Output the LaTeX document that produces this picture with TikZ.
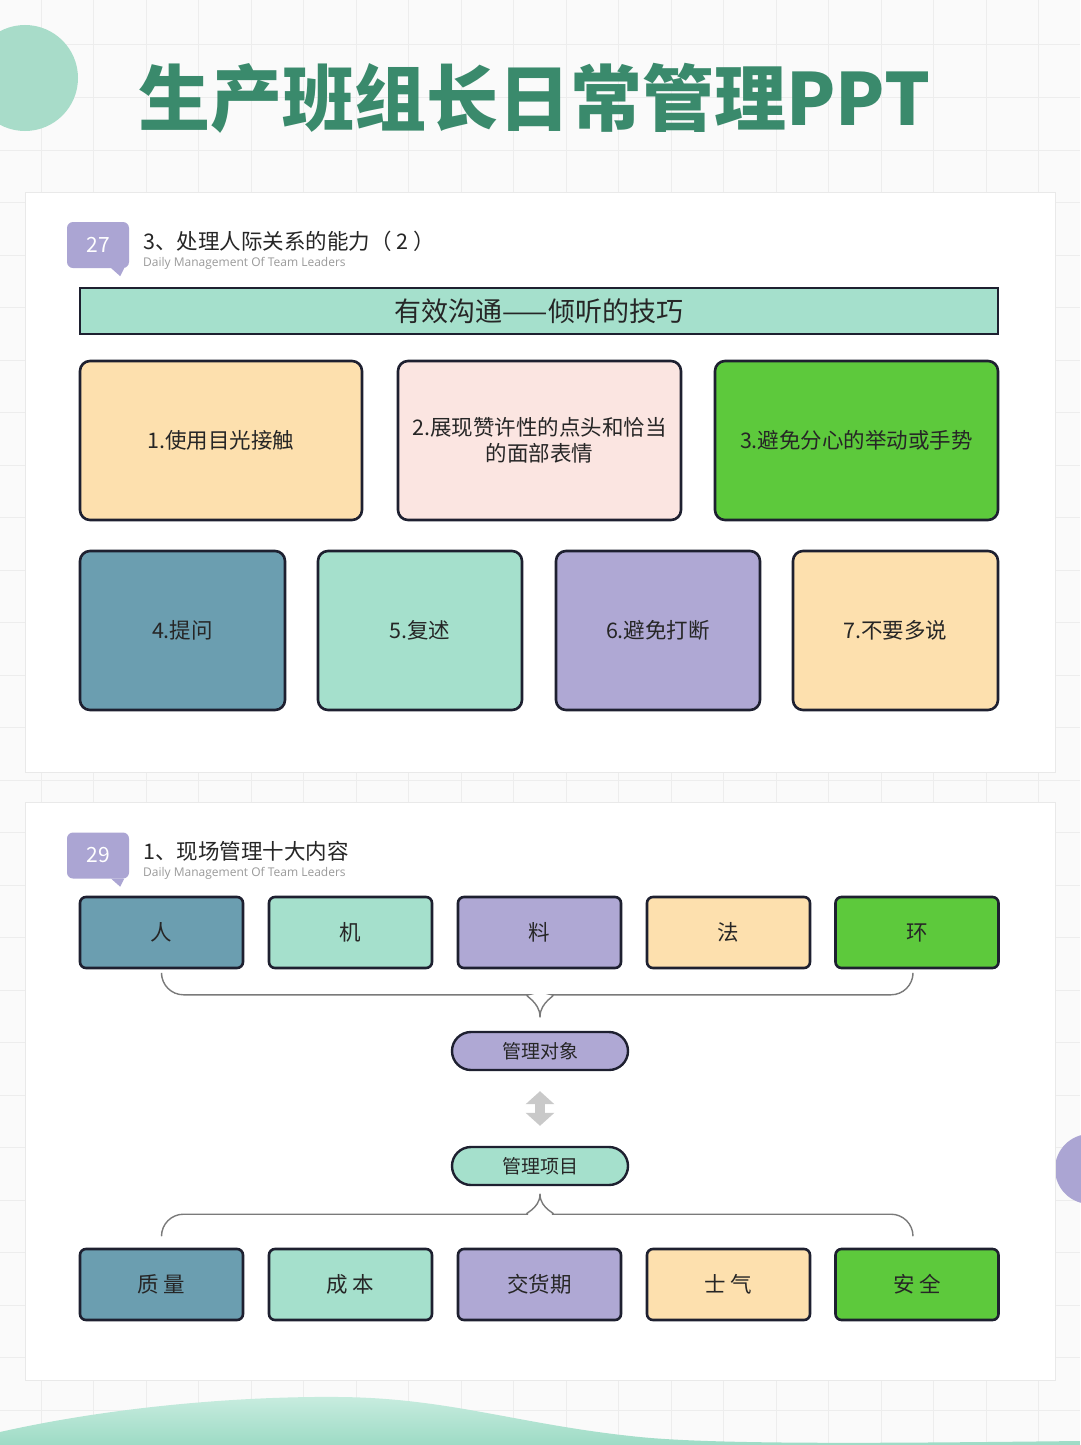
\documentclass[tikz,border=0pt]{standalone}
\usepackage{fontspec}
\setmainfont{Noto Sans CJK SC}
\newfontfamily\subfont{Open Sans}
\usetikzlibrary{arrows.meta,calc}
\definecolor{paper}{HTML}{FAFAFA}
\definecolor{gridcolor}{HTML}{EDEDED}
\definecolor{panelline}{HTML}{E9E9E9}
\definecolor{titlegreen}{HTML}{3A8A6C}
\definecolor{circlegreen}{HTML}{A8DCC9}
\definecolor{wavelight}{HTML}{C8ECDF}
\definecolor{wavegreen}{HTML}{9DDBC5}
\definecolor{badgecolor}{HTML}{ABA5D3}
\definecolor{inkline}{HTML}{1E2030}
\definecolor{inktext}{HTML}{262626}
\definecolor{subgray}{HTML}{9A9A9A}
\definecolor{bracegray}{HTML}{7A7A7A}
\definecolor{arrowgray}{HTML}{C9C9C9}
\definecolor{steel}{HTML}{6B9EB0}
\definecolor{mint}{HTML}{A5E0CC}
\definecolor{lavender}{HTML}{AFA8D4}
\definecolor{peach}{HTML}{FDE0AE}
\definecolor{blush}{HTML}{FBE5E1}
\definecolor{leaf}{HTML}{5DC93C}
\tikzset{
  gridline/.style={draw=gridcolor, line width=1pt},
  panel/.style={fill=white, draw=panelline, line width=1pt},
  title/.style={
    anchor=west,
    inner sep=0pt,
    text=titlegreen,
    font=\bfseries\fontsize{72}{80}\selectfont
  },
  badge/.style={
    fill=badgecolor,
    rounded corners=6pt,
    minimum width=62pt,
    minimum height=46pt,
    text=white,
    font=\fontsize{21}{24}\selectfont
  },
  heading/.style={anchor=west, inner sep=0pt, text=inktext,
    font=\fontsize{21.5}{24}\selectfont},
  subheading/.style={anchor=west, inner sep=0pt, text=subgray,
    font=\subfont\fontsize{12}{14}\selectfont},
  banner/.style={
    draw=inkline,
    fill=mint,
    line width=2.6pt,
    minimum width=918pt,
    minimum height=46pt,
    text=inktext,
    font=\fontsize{27}{30}\selectfont
  },
  card/.style={
    draw=inkline,
    fill=#1,
    rounded corners=10pt,
    line width=2.6pt,
    minimum height=159pt,
    inner sep=0pt,
    align=center,
    text=inktext,
    font=\fontsize{21.5}{26}\selectfont
  },
  tag/.style={
    draw=inkline,
    fill=#1,
    rounded corners=6pt,
    line width=2.6pt,
    minimum width=163pt,
    minimum height=71pt,
    text=inktext,
    font=\fontsize{21.5}{24}\selectfont
  },
  pill/.style={
    draw=inkline,
    fill=#1,
    rounded corners=19pt,
    line width=2.4pt,
    minimum width=176pt,
    minimum height=38pt,
    text=inktext,
    font=\fontsize{19}{22}\selectfont
  },
  bracewire/.style={draw=bracegray, line width=1.4pt, line cap=round},
  exchange/.style={
    draw=arrowgray,
    line width=10pt,
    {Triangle[length=13pt,width=28pt]}-{Triangle[length=13pt,width=28pt]}
  }
}

\begin{document}
\begin{tikzpicture}[x=1pt,y=-1pt]
  \path[use as bounding box] (0,0) rectangle (1080,1445);

  % background grid and decorations
  \fill[paper] (0,0) rectangle (1080,1445);
  \foreach \gx in {41,93.5,...,1080} \draw[gridline] (\gx,0) -- (\gx,1445);
  \foreach \gy in {45,97.5,...,1445} \draw[gridline] (0,\gy) -- (1080,\gy);
  \fill[circlegreen] (25,78) circle (53);
  \fill[badgecolor] (1090,1169) circle (35);
  \shade[top color=wavelight, bottom color=wavegreen]
    (0,1445) -- (0,1432) .. controls (120,1405) and (250,1396) .. (340,1397)
    .. controls (450,1398) and (520,1425) .. (640,1437)
    .. controls (720,1445) and (900,1443) .. (1080,1441)
    -- (1080,1445) -- cycle;

  \node[title] (title) at (138,98) {生产班组长日常管理PPT};

  % panel 27
  \draw[panel] (25,192) rectangle (1055,772);
  \node[badge] (badgeA) at (98,245) {27};
  \fill[badgecolor] ($(badgeA.south east)+(-18,0)$) -- ($(badgeA.south east)+(-5,0)$)
    -- ($(badgeA.south east)+(-9,8)$) -- cycle;
  \node[heading] (headA) at (143,241) {3、处理人际关系的能力（ 2 ）};
  \node[subheading] (subA) at (143,263) {Daily Management Of Team Leaders};
  \node[banner] (skill) at (539,311) {有效沟通——倾听的技巧};

  \node[card=peach, minimum width=282pt] (eye) at (221,440.5) {1.使用目光接触};
  \node[card=blush, minimum width=283pt] (nod) at (539.5,440.5)
    {2.展现赞许性的点头和恰当\\的面部表情};
  \node[card=leaf, minimum width=283pt] (calm) at (856.5,440.5) {3.避免分心的举动或手势};

  \node[card=steel, minimum width=205pt] (ask) at (182.5,630.5) {4.提问};
  \node[card=mint, minimum width=204pt] (retell) at (420,630.5) {5.复述};
  \node[card=lavender, minimum width=204pt] (nocut) at (658,630.5) {6.避免打断};
  \node[card=peach, minimum width=205pt] (less) at (895.5,630.5) {7.不要多说};

  % panel 29
  \draw[panel] (25,802) rectangle (1055,1380);
  \node[badge] (badgeB) at (98,855.5) {29};
  \fill[badgecolor] ($(badgeB.south east)+(-18,0)$) -- ($(badgeB.south east)+(-5,0)$)
    -- ($(badgeB.south east)+(-9,8)$) -- cycle;
  \node[heading] (headB) at (143,851) {1、现场管理十大内容};
  \node[subheading] (subB) at (143,873) {Daily Management Of Team Leaders};

  \node[tag=steel] (ren) at (161.5,932.5) {人};
  \node[tag=mint] (ji) at (350.5,932.5) {机};
  \node[tag=lavender] (liao) at (539.5,932.5) {料};
  \node[tag=peach] (fa) at (728.5,932.5) {法};
  \node[tag=leaf] (huan) at (917,932.5) {环};

  \node[pill=lavender] (object) at (540,1051) {管理对象};
  \node[pill=mint] (item) at (540,1166) {管理项目};

  \node[tag=steel] (quality) at (161.5,1284.5) {质 量};
  \node[tag=mint] (cost) at (350.5,1284.5) {成 本};
  \node[tag=lavender] (delivery) at (539.5,1284.5) {交货期};
  \node[tag=peach] (morale) at (728.5,1284.5) {士 气};
  \node[tag=leaf] (safety) at (917,1284.5) {安 全};

  % braces
  \coordinate (objtip) at ($(object.north)+(0,-14)$);
  \coordinate (itemtip) at ($(item.south)+(0,8)$);
  \draw[bracewire, rounded corners=22pt] ($(ren.south)+(0,6)$)
    |- ($(objtip)+(-34,-22)$) to[out=0,in=90] (objtip);
  \draw[bracewire, rounded corners=22pt] (objtip) to[out=90,in=180]
    ($(objtip)+(34,-22)$) -| ($(huan.south)+(-4,6)$);
  \draw[bracewire, rounded corners=22pt] ($(quality.north)+(0,-13)$)
    |- ($(itemtip)+(-34,20)$) to[out=0,in=-90] (itemtip);
  \draw[bracewire, rounded corners=22pt] (itemtip) to[out=-90,in=180]
    ($(itemtip)+(34,20)$) -| ($(safety.north)+(-4,-13)$);

  \draw[exchange, shorten <=20pt, shorten >=20pt] (object.south) -- (item.north);
\end{tikzpicture}
\end{document}
